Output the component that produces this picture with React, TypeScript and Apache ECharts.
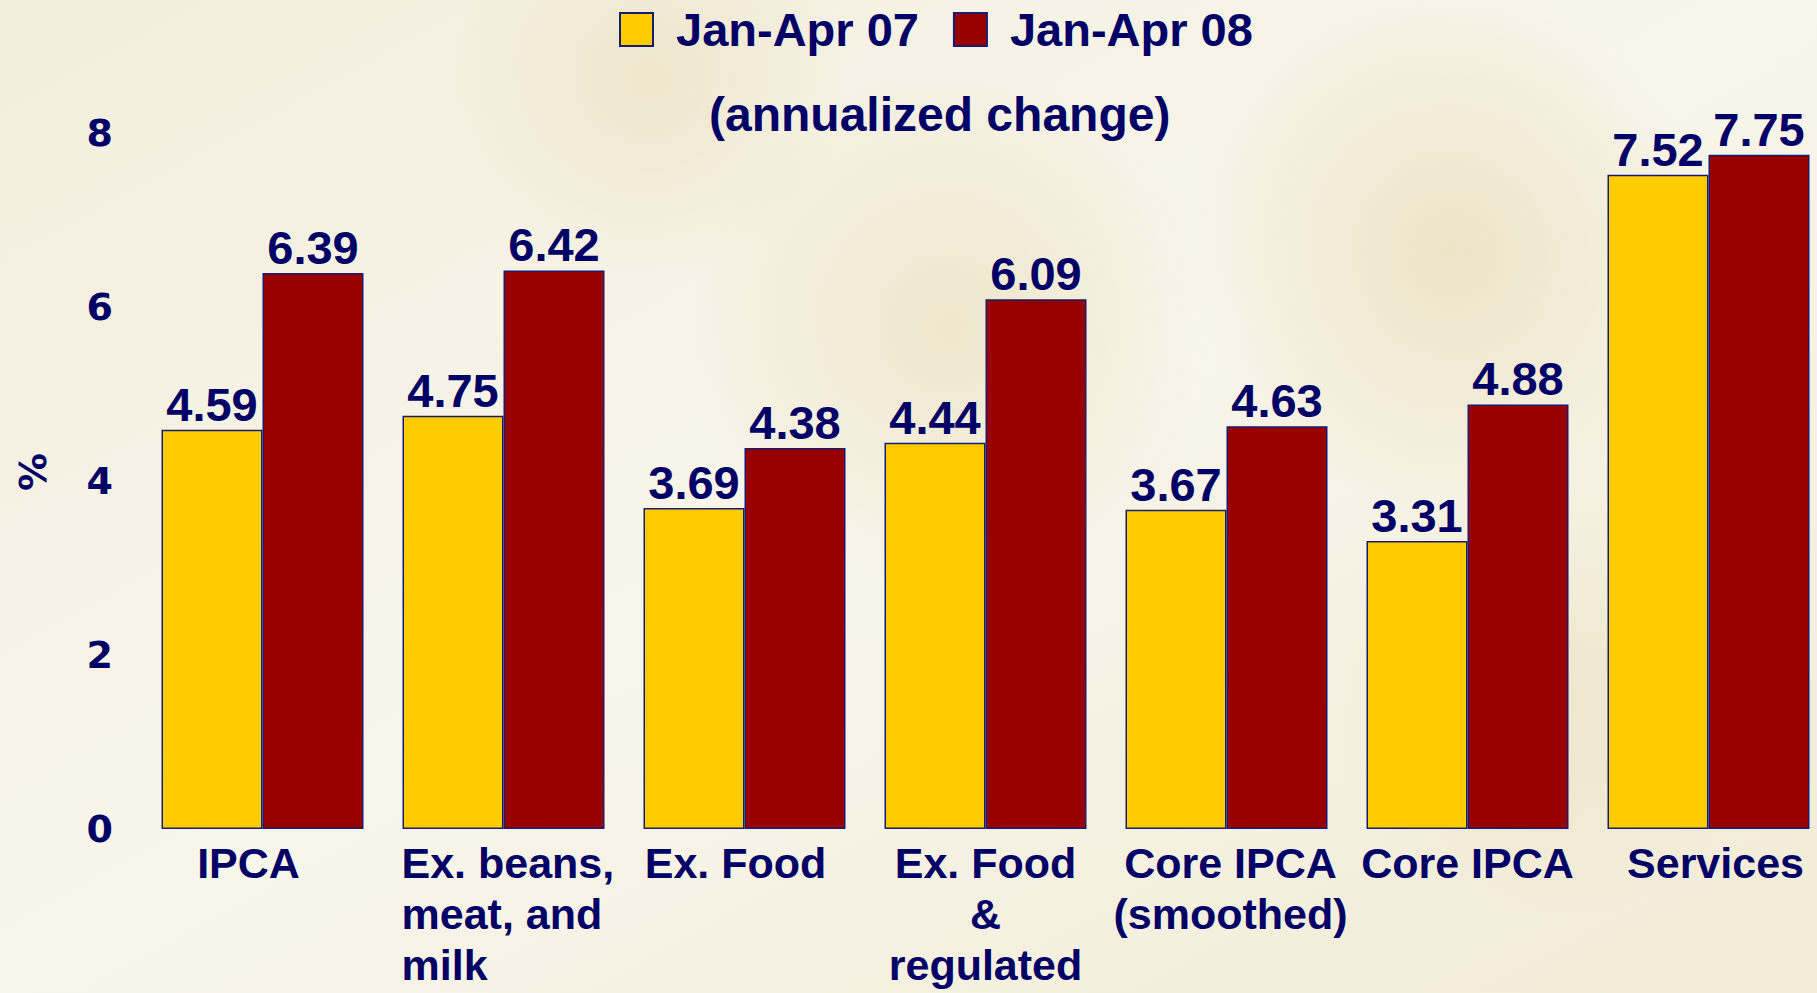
import React, { useEffect, useRef } from "react";
import * as echarts from "echarts";

const categories = [
  "IPCA",
  "Ex. beans,\nmeat, and\nmilk",
  "Ex. Food",
  "Ex. Food\n&\nregulated",
  "Core IPCA\n(smoothed)",
  "Core IPCA",
  "Services",
];
const seriesNames = ["Jan-Apr 07", "Jan-Apr 08"];
const janApr07 = [4.59, 4.75, 3.69, 4.44, 3.67, 3.31, 7.52];
const janApr08 = [6.39, 6.42, 4.38, 6.09, 4.63, 4.88, 7.75];
const yTicks = { min: 0, max: 8, interval: 2 };
const subtitle = "(annualized change)";
const yName = "%";

const NAVY = "#000066";
const FONT = "'Liberation Sans', Arial, sans-serif";
const WIDE = "'DejaVu Sans', sans-serif";

// horizontal nudges of category labels (px, negative = left)
const labelShift = [-14, 0, -9, 0, 4, 0, 7];

export default function App() {
  const ref = useRef<HTMLDivElement>(null);
  useEffect(() => {
    document.body.style.margin = "0";
    if (!ref.current) return;
    const chart = echarts.init(ref.current, undefined, { renderer: "svg" });
    const labelStyle = {
      show: true,
      position: "top" as const,
      distance: 2,
      color: NAVY,
      fontFamily: FONT,
      fontWeight: "bold" as const,
      fontSize: 47,
      formatter: (p: any) => Number(p.value).toFixed(2),
    };
    const glow = (cx: number, cy: number, r: number, a: number) => ({
      type: "circle",
      silent: true,
      z: -10,
      shape: { cx, cy, r },
      style: {
        fill: {
          type: "radial",
          x: 0.5,
          y: 0.5,
          r: 0.5,
          colorStops: [
            { offset: 0, color: `rgba(226,214,170,${a})` },
            { offset: 1, color: "rgba(226,214,170,0)" },
          ],
        },
      },
    });
    const catData = categories.map((c, i) => {
      const s = labelShift[i];
      if (!s) return c;
      return {
        value: c,
        textStyle: {
          padding: s < 0 ? [0, -2 * s, 0, 0] : [0, 0, 0, 2 * s],
        },
      };
    });
    chart.setOption({
      animation: false,
      backgroundColor: {
        type: "linear",
        x: 0,
        y: 0,
        x2: 1,
        y2: 1,
        colorStops: [
          { offset: 0, color: "#F3EEDD" },
          { offset: 0.5, color: "#F8F5EA" },
          { offset: 1, color: "#F1EBD6" },
        ],
      },
      graphic: [
        glow(1450, 250, 260, 0.55),
        glow(950, 330, 260, 0.45),
        glow(650, 80, 200, 0.4),
        glow(1550, 700, 220, 0.35),
        {
          type: "text",
          left: 941 - 232,
          top: 90,
          style: {
            text: subtitle,
            fill: NAVY,
            font: `bold 48px ${FONT}`,
          },
        },
      ],
      legend: {
        left: 614,
        top: 1,
        itemWidth: 33,
        itemHeight: 33,
        itemGap: 34,
        icon: "rect",
        textStyle: {
          color: NAVY,
          fontFamily: FONT,
          fontWeight: "bold",
          fontSize: 47,
          padding: [0, 0, 0, 18],
        },
        data: seriesNames,
      },
      grid: {
        left: 142,
        width: 1687,
        top: 133,
        height: 696,
        containLabel: false,
        outerBoundsMode: "none",
      },
      xAxis: {
        type: "category",
        data: catData,
        axisLine: { show: false },
        axisTick: { show: false },
        axisLabel: {
          interval: 0,
          margin: 8,
          color: NAVY,
          fontFamily: FONT,
          fontWeight: "bold",
          fontSize: 43,
          lineHeight: 51,
          formatter: (v: string) =>
            v.startsWith("Ex. beans")
              ? v
                  .split("\n")
                  .map((l) => `{l|${l}}`)
                  .join("\n")
              : v,
          rich: {
            l: {
              width: 204,
              align: "left",
              color: NAVY,
              fontFamily: FONT,
              fontWeight: "bold",
              fontSize: 43,
              lineHeight: 51,
            },
          },
        },
      },
      yAxis: {
        type: "value",
        min: yTicks.min,
        max: yTicks.max,
        interval: yTicks.interval,
        name: yName,
        nameLocation: "middle",
        nameRotate: 90,
        nameGap: 90,
        nameTextStyle: {
          color: NAVY,
          fontFamily: WIDE,
          fontWeight: "bold",
          fontSize: 38,
          padding: [0, 0, 0, 18],
        },
        axisLine: { show: false },
        axisTick: { show: false },
        splitLine: { show: false },
        axisLabel: {
          margin: 29,
          color: NAVY,
          fontFamily: WIDE,
          fontWeight: "bold",
          fontSize: 38,
        },
      },
      series: [
        {
          name: seriesNames[0],
          type: "bar",
          data: janApr07,
          barWidth: 101,
          barGap: "0%",
          itemStyle: { color: "#FFCC00", borderColor: "#1A1A6E", borderWidth: 1.5 },
          label: labelStyle,
        },
        {
          name: seriesNames[1],
          type: "bar",
          data: janApr08,
          barWidth: 101,
          barGap: "0%",
          itemStyle: { color: "#990000", borderColor: "#1A1A6E", borderWidth: 1.5 },
          label: labelStyle,
        },
      ],
    });
    return () => chart.dispose();
  }, []);
  return <div ref={ref} style={{ width: 1817, height: 993 }} />;
}
